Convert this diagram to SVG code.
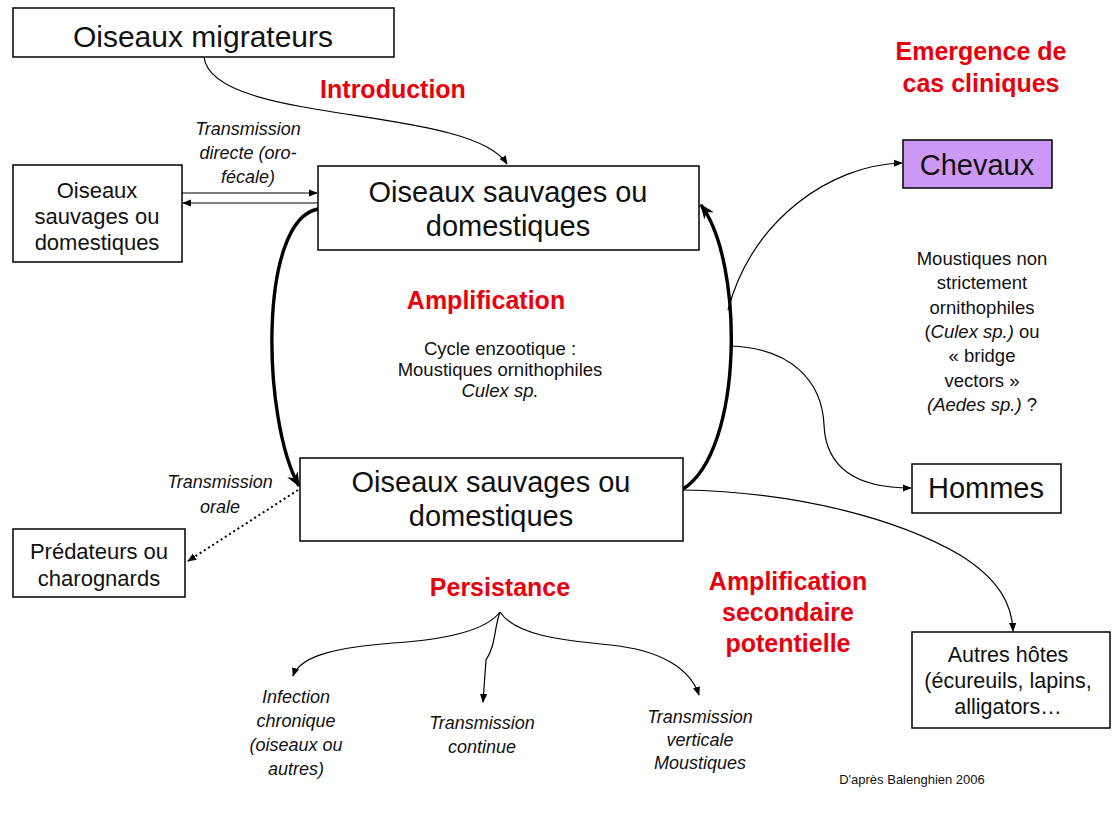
<svg xmlns="http://www.w3.org/2000/svg" width="1112" height="814" viewBox="0 0 1112 814">
<defs>
<style>
.box{fill:#fff;stroke:#000;stroke-width:1.5}
.t{font-family:"Liberation Sans",Arial,sans-serif;fill:#111;text-anchor:middle}
.red{font-family:"Liberation Sans",Arial,sans-serif;fill:#e8000c;font-weight:bold;font-size:25px;text-anchor:middle}
.it{font-style:italic}
.c{fill:none;stroke:#000;stroke-width:1.2}
.thick{fill:none;stroke:#000;stroke-width:3.4}
</style>
<marker id="a" viewBox="0 0 10 10" refX="9" refY="5" markerWidth="9" markerHeight="9" markerUnits="userSpaceOnUse" orient="auto"><path d="M0,1 L10,5 L0,9 z" fill="#000"/></marker>
<marker id="ab" viewBox="0 0 10 10" refX="9" refY="5" markerWidth="15" markerHeight="15" markerUnits="userSpaceOnUse" orient="auto"><path d="M0,1 L10,5 L0,9 L3,5 z" fill="#000"/></marker>
</defs>
<rect width="1112" height="814" fill="#fff"/>

<g id="connectors">
<path class="c" d="M204,57 C212,125 470,105 507,164" marker-end="url(#a)"/>
<path class="c" d="M182,193 L317,193" marker-end="url(#a)"/>
<path class="c" d="M318,203 L183,203" marker-end="url(#a)"/>
<path class="thick" d="M318,209 C258,220 262,420 299,486" marker-end="url(#ab)"/>
<path class="thick" d="M683,489 C744,450 744,262 701,205" marker-end="url(#ab)"/>
<path class="c" d="M728,310 C752,220 830,165 902,163" marker-end="url(#a)"/>
<path class="c" d="M730,346 C790,348 822,380 824,425 C826,470 860,488 911,488" marker-end="url(#a)"/>
<path class="c" d="M683,490 C800,492 900,520 960,555 C1000,580 1012,605 1013,631" marker-end="url(#a)"/>
<path fill="none" stroke="#000" stroke-width="2" stroke-dasharray="2,3" d="M298,490 L188,561" marker-end="url(#a)"/>
<path class="c" d="M500,612 C485,632 440,640 393,643 C340,647 300,655 293,676" marker-end="url(#a)"/>
<path class="c" d="M500,612 C494,628 496,645 486,660 L483,702" marker-end="url(#a)"/>
<path class="c" d="M500,612 C515,635 560,640 610,645 C660,650 690,668 699,695" marker-end="url(#a)"/>
</g>

<g id="n-migrateurs">
<rect class="box" x="13" y="8" width="381" height="49"/>
<text class="t" x="203" y="47" font-size="30">Oiseaux migrateurs</text>
</g>
<g id="n-oiseaux-gauche">
<rect class="box" x="13" y="165" width="169" height="97"/>
<text class="t" x="97" y="198" font-size="22">Oiseaux</text>
<text class="t" x="97" y="224" font-size="22">sauvages ou</text>
<text class="t" x="97" y="250" font-size="22">domestiques</text>
</g>
<g id="n-oiseaux-haut">
<rect class="box" x="318" y="166" width="381" height="84"/>
<text class="t" x="508" y="202" font-size="29">Oiseaux sauvages ou</text>
<text class="t" x="508" y="236" font-size="29">domestiques</text>
</g>
<g id="n-chevaux">
<rect x="903" y="140" width="149" height="48" fill="#cc99f7" stroke="#000" stroke-width="1.5"/>
<text class="t" x="977" y="175" font-size="29">Chevaux</text>
</g>
<g id="n-oiseaux-bas">
<rect class="box" x="300" y="458" width="383" height="83"/>
<text class="t" x="491" y="492" font-size="29">Oiseaux sauvages ou</text>
<text class="t" x="491" y="526" font-size="29">domestiques</text>
</g>
<g id="n-hommes">
<rect class="box" x="912" y="464" width="149" height="49"/>
<text class="t" x="986" y="498" font-size="29">Hommes</text>
</g>
<g id="n-predateurs">
<rect class="box" x="13" y="529" width="172" height="68"/>
<text class="t" x="99" y="559" font-size="22">Prédateurs ou</text>
<text class="t" x="99" y="586" font-size="22">charognards</text>
</g>
<g id="n-autres">
<rect class="box" x="912" y="632" width="198" height="96"/>
<text class="t" x="1008" y="662" font-size="21.5">Autres hôtes</text>
<text class="t" x="1008" y="688" font-size="21.5">(écureuils, lapins,</text>
<text class="t" x="1008" y="714" font-size="21.5">alligators…</text>
</g>

<g id="labels">
<text class="red" x="393" y="98">Introduction</text>
<text class="red" x="981" y="60">Emergence de</text>
<text class="red" x="981" y="92">cas cliniques</text>
<text class="red" x="486" y="309">Amplification</text>
<text class="red" x="500" y="596">Persistance</text>
<text class="red" x="788" y="590">Amplification</text>
<text class="red" x="788" y="621">secondaire</text>
<text class="red" x="788" y="652">potentielle</text>

<text class="t it" font-size="18" x="248" y="135">Transmission</text>
<text class="t it" font-size="18" x="248" y="159">directe (oro-</text>
<text class="t it" font-size="18" x="248" y="183">fécale)</text>

<text class="t" font-size="18.5" x="500" y="355">Cycle enzootique :</text>
<text class="t" font-size="18.5" x="500" y="376">Moustiques ornithophiles</text>
<text class="t it" font-size="18.5" x="500" y="397">Culex sp.</text>

<text class="t" font-size="18.5" x="982" y="265">Moustiques non</text>
<text class="t" font-size="18.5" x="982" y="289">strictement</text>
<text class="t" font-size="18.5" x="982" y="314">ornithophiles</text>
<text class="t" font-size="18.5" x="982" y="338">(<tspan class="it">Culex sp.)</tspan> ou</text>
<text class="t" font-size="18.5" x="982" y="362">« bridge</text>
<text class="t" font-size="18.5" x="982" y="387">vectors »</text>
<text class="t" font-size="18.5" x="982" y="411"><tspan class="it">(Aedes sp.)</tspan> ?</text>

<text class="t it" font-size="18" x="220" y="488">Transmission</text>
<text class="t it" font-size="18" x="220" y="513">orale</text>

<text class="t it" font-size="18" x="296" y="703">Infection</text>
<text class="t it" font-size="18" x="296" y="727">chronique</text>
<text class="t it" font-size="18" x="296" y="751">(oiseaux ou</text>
<text class="t it" font-size="18" x="296" y="775">autres)</text>

<text class="t it" font-size="18" x="482" y="729">Transmission</text>
<text class="t it" font-size="18" x="482" y="753">continue</text>

<text class="t it" font-size="18" x="700" y="723">Transmission</text>
<text class="t it" font-size="18" x="700" y="746">verticale</text>
<text class="t it" font-size="18" x="700" y="769">Moustiques</text>

<text class="t" font-size="13" x="912" y="784">D'après Balenghien 2006</text>
</g>
</svg>
